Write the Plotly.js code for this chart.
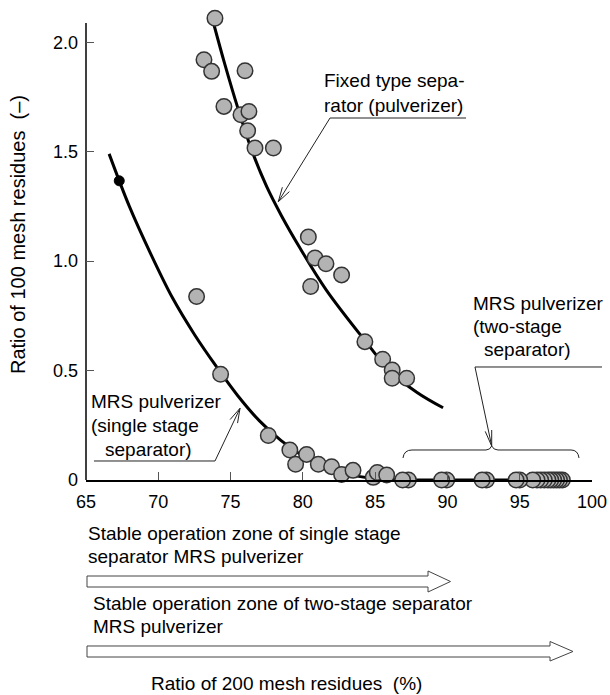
<!DOCTYPE html>
<html>
<head>
<meta charset="utf-8">
<script src="https://cdn.plot.ly/plotly-3.0.1.min.js"></script>
<style>html,body{margin:0;padding:0;background:#fff;}#chart{width:610px;height:695px;}</style>
</head>
<body>
<div id="chart"></div>
<script>
// ---- data ----
var fixedX = [73.92, 73.16, 73.69, 76.0, 74.54, 75.72, 76.27, 76.18, 76.69, 77.96, 80.38, 80.84, 81.6, 82.68, 80.54, 84.29, 85.52, 86.18, 86.18, 87.18];
var fixedY = [2.11, 1.92, 1.867, 1.87, 1.707, 1.669, 1.684, 1.596, 1.517, 1.517, 1.110, 1.014, 0.988, 0.937, 0.884, 0.632, 0.552, 0.503, 0.465, 0.465];

var singleX = [72.65, 74.31, 77.61, 79.1, 79.5, 80.26, 81.07, 81.99, 82.68, 83.47, 84.87, 85.15, 85.8];
var singleY = [0.838, 0.483, 0.203, 0.137, 0.072, 0.117, 0.072, 0.061, 0.025, 0.044, 0.012, 0.034, 0.023];

var twoStageX = [97.95, 97.75, 97.55, 97.35, 97.15, 96.95, 96.7, 96.45, 96.2, 95.9, 95.0, 94.75, 92.7, 92.4, 89.95, 89.6, 87.3, 86.9];
var twoStageY = [0, 0, 0, 0, 0, 0, 0, 0, 0, 0, 0, 0, 0, 0, 0, 0, 0, 0];

var blackX = [67.3];
var blackY = [1.367];

var fixedCurveX = [73.85, 74.6, 75.5, 76.5, 77.5, 78.5, 79.8, 81.6, 84.2, 86.0, 87.9, 89.7];
var fixedCurveY = [2.08, 1.90, 1.70, 1.50, 1.34, 1.21, 1.06, 0.87, 0.645, 0.50, 0.40, 0.33];

var singleCurveX = [66.6, 68, 69.5, 71, 72.5, 74, 75.5, 77, 78.5, 80, 81.5, 83, 84.5, 86, 88, 98];
var singleCurveY = [1.49, 1.25, 1.03, 0.83, 0.665, 0.52, 0.385, 0.27, 0.18, 0.11, 0.06, 0.028, 0.01, 0.002, 0, 0];

var xTicks = [65, 70, 75, 80, 85, 90, 95, 100];
var xTickText = ['65', '70', '75', '80', '85', '90', '95', '100'];
var yTicks = [0, 0.5, 1.0, 1.5, 2.0];
var yTickText = ['0', '0.5', '1.0', '1.5', '2.0'];

// ---- layout helpers (pixel -> paper) ----
var PL = 86, PR = 592, PB = 480, AXTOP = 23, PT = 10;
var pxPerUnit = (PB - AXTOP) / 2.088;
var yTop = (PB - PT) / pxPerUnit;
function px(x) { return (x - PL) / (PR - PL); }
function py(y) { return (PB - y) / (PB - PT); }
function pathFrom(segs) {
  return segs.map(function (s) {
    var out = s[0];
    for (var i = 1; i < s.length; i++) out += ' ' + px(s[i][0]).toFixed(5) + ',' + py(s[i][1]).toFixed(5);
    return out;
  }).join(' ');
}
function barbs(tx, ty, fx, fy, len, ang) {
  var dx = fx - tx, dy = fy - ty, d = Math.sqrt(dx * dx + dy * dy);
  dx /= d; dy /= d;
  var a = ang * Math.PI / 180;
  var b1 = [tx + len * (dx * Math.cos(a) - dy * Math.sin(a)), ty + len * (dx * Math.sin(a) + dy * Math.cos(a))];
  var b2 = [tx + len * (dx * Math.cos(-a) - dy * Math.sin(-a)), ty + len * (dx * Math.sin(-a) + dy * Math.cos(-a))];
  return [['M', b1], ['L', [tx, ty]], ['L', b2]];
}

var FONT = 'Liberation Sans, Arial, Helvetica, sans-serif';
var thin = {color: '#222', width: 1};

var shapes = [];
function addLine(segs, line, fill) {
  var s = {type: 'path', xref: 'paper', yref: 'paper', path: pathFrom(segs), line: line || thin, layer: 'above'};
  if (fill) s.fillcolor = fill;
  shapes.push(s);
}
// y axis line (stops at the top of the original frame)
shapes.push({type: 'line', xref: 'paper', yref: 'paper', x0: 0, x1: 0, y0: 0, y1: py(AXTOP), line: {color: '#000', width: 1.5}, layer: 'below'});
// Fixed type separator leader
addLine([['M', [466, 118]], ['L', [330, 118]], ['L', [278.3, 201.7]]]);
addLine(barbs(278.3, 201.7, 330, 118, 15, 16));
// Two-stage leader
addLine([['M', [602, 367]], ['L', [475, 367]], ['L', [491.7, 446]]]);
addLine(barbs(491.7, 446, 475, 367, 16, 12));
// Brace
addLine([['M', [403, 458]], ['Q', [404, 450], [412, 450]], ['L', [486, 450]], ['Q', [490, 450], [491.7, 446]],
         ['Q', [493.5, 450], [498, 450]], ['L', [571, 450]], ['Q', [578, 450], [579, 458]]]);
// Single-stage leader
addLine([['M', [94, 461]], ['L', [215, 461]], ['L', [240, 408.3]]]);
addLine(barbs(240, 408.3, 215, 461, 15, 16));
// Hollow arrows below the axis
addLine([['M', [87, 576]], ['L', [428, 576]], ['L', [428, 571]], ['L', [450.5, 581.5]], ['L', [428, 592]],
         ['L', [428, 587]], ['L', [87, 587]], ['Z']], {color: '#444', width: 1}, '#fff');
addLine([['M', [87, 646]], ['L', [550, 646]], ['L', [550, 641.5]], ['L', [573, 651.5]], ['L', [550, 661]],
         ['L', [550, 657]], ['L', [87, 657]], ['Z']], {color: '#444', width: 1}, '#fff');

var annotations = [];
function addText(text, x, y, opts) {
  var a = {text: text, xref: 'paper', yref: 'paper', x: px(x), y: py(y), xanchor: 'left', yanchor: 'middle',
           showarrow: false, font: {family: FONT, size: 19, color: '#000'}};
  for (var k in (opts || {})) a[k] = opts[k];
  annotations.push(a);
}
addText('Fixed type sepa-', 322, 80);
addText('rator (pulverizer)', 322, 105);
addText('MRS pulverizer', 471, 303);
addText('(two-stage', 471, 327);
addText('separator)', 482, 350);
addText('MRS pulverizer', 89, 401.7);
addText('(single stage', 89, 425);
addText('separator)', 102.5, 449.3);
addText('Stable operation zone of single stage', 85.5, 533);
addText('separator MRS pulverizer', 85.5, 556);
addText('Stable operation zone of two-stage separator', 90.5, 603);
addText('MRS pulverizer', 90.5, 626.7);
addText('Ratio of 200 mesh residues  (%)', 286.5, 683, {xanchor: 'center'});
addText('Ratio of 100 mesh residues  (\u2013)', 18, 235, {xanchor: 'center', textangle: -90, font: {family: FONT, size: 20, color: '#000'}});

var grayMarker = {symbol: 'circle', size: 15.5, color: '#b3b3b3', line: {color: '#333', width: 1.5}};

var traces = [
  {x: singleCurveX, y: singleCurveY, mode: 'lines', line: {color: '#000', width: 3, shape: 'spline', smoothing: 1}, cliponaxis: false, hoverinfo: 'skip'},
  {x: fixedCurveX, y: fixedCurveY, mode: 'lines', line: {color: '#000', width: 3, shape: 'spline', smoothing: 1}, cliponaxis: false, hoverinfo: 'skip'},
  {x: fixedX, y: fixedY, mode: 'markers', marker: grayMarker, cliponaxis: false},
  {x: singleX, y: singleY, mode: 'markers', marker: grayMarker, cliponaxis: false},
  {x: twoStageX, y: twoStageY, mode: 'markers', marker: grayMarker, cliponaxis: false},
  {x: blackX, y: blackY, mode: 'markers', marker: {symbol: 'circle', size: 10, color: '#000', line: {color: '#000', width: 1}}, cliponaxis: false}
];

var layout = {
  width: 610, height: 695,
  margin: {l: PL, r: 610 - PR, t: PT, b: 695 - PB, pad: 0},
  paper_bgcolor: '#fff', plot_bgcolor: '#fff',
  showlegend: false,
  font: {family: FONT, color: '#000', size: 18},
  xaxis: {
    range: [65, 100], tickmode: 'array', tickvals: xTicks, ticktext: xTickText,
    ticks: 'inside', ticklen: 8, tickwidth: 1, tickcolor: '#555',
    showline: true, linecolor: '#000', linewidth: 1.5, showgrid: false, zeroline: false,
    tickfont: {family: FONT, size: 18, color: '#000'}, ticklabelstandoff: 5, fixedrange: true
  },
  yaxis: {
    range: [0, yTop], tickmode: 'array', tickvals: yTicks, ticktext: yTickText,
    ticks: 'inside', ticklen: 8, tickwidth: 1, tickcolor: '#555',
    showline: false, showgrid: false, zeroline: false,
    tickfont: {family: FONT, size: 18, color: '#000'}, ticklabelstandoff: 7, fixedrange: true
  },
  shapes: shapes,
  annotations: annotations
};

Plotly.newPlot('chart', traces, layout, {displayModeBar: false, staticPlot: true});
</script>
</body>
</html>
